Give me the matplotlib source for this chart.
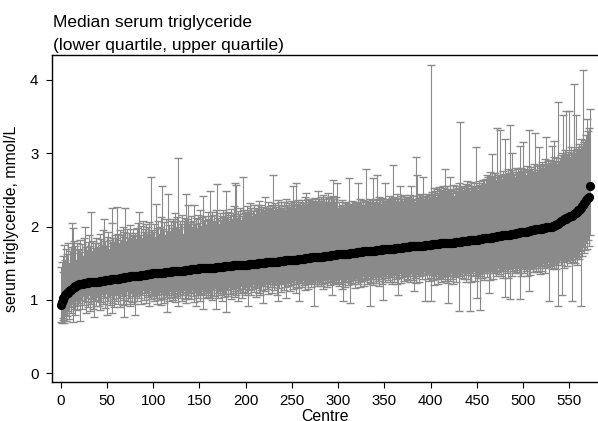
import numpy as np
import matplotlib
matplotlib.use("Agg")
import matplotlib.pyplot as plt

plt.rcParams['font.family'] = ['Liberation Sans', 'DejaVu Sans']

# centres sorted by median triglyceride: median level and how many centres share it
median_levels = [0.93, 0.97, 1.00, 1.02, 1.04, 1.06, 1.08, 1.09, 1.10, 1.12, 1.13, 1.14, 1.15, 1.16, 1.17, 1.18,
                 1.19, 1.20, 1.21, 1.22, 1.23, 1.24, 1.25, 1.26, 1.27, 1.28, 1.29, 1.30,
                 1.31, 1.32, 1.33, 1.34, 1.35, 1.36, 1.37, 1.38, 1.39, 1.40, 1.41,
                 1.42, 1.43, 1.44, 1.45, 1.46, 1.47, 1.48, 1.49, 1.50,
                 1.51, 1.52, 1.53, 1.54, 1.55, 1.56, 1.57, 1.58, 1.59, 1.60,
                 1.61, 1.62, 1.63, 1.64, 1.65, 1.66, 1.67, 1.68, 1.69, 1.70,
                 1.71, 1.72, 1.73, 1.74, 1.75, 1.76, 1.77, 1.78, 1.79, 1.80,
                 1.81, 1.82, 1.83, 1.84, 1.85, 1.86, 1.87, 1.88, 1.89, 1.90, 1.91,
                 1.92, 1.93, 1.94, 1.95, 1.96, 1.97, 1.98, 1.99, 2.00, 2.01, 2.02,
                 2.03, 2.04, 2.05, 2.06, 2.07, 2.08, 2.09, 2.10, 2.11,
                 2.12, 2.13, 2.14, 2.15, 2.16, 2.17, 2.18,
                 2.20, 2.21, 2.22, 2.23, 2.24, 2.26, 2.28, 2.30, 2.32, 2.34, 2.36,
                 2.37, 2.39, 2.41, 2.56]
median_counts = [1, 1, 1, 1, 1, 1, 1, 1, 1, 1, 1, 1, 1, 1, 1, 1,
                 2, 2, 2, 3, 5, 6, 6, 6, 6, 5, 5, 5,
                 6, 6, 6, 6, 6, 7, 7, 7, 7, 7, 7,
                 9, 9, 9, 9, 9, 9, 9, 9, 9,
                 7, 7, 7, 7, 7, 7, 7, 7, 7, 7,
                 7, 7, 7, 7, 7, 7, 7, 7, 7, 7,
                 8, 8, 8, 8, 8, 8, 8, 8, 8, 8,
                 5, 5, 5, 5, 5, 5, 5, 5, 5, 5, 5,
                 4, 4, 4, 4, 4, 4, 4, 4, 3, 3, 2,
                 1, 1, 1, 1, 1, 1, 1, 1, 2,
                 2, 2, 2, 1, 1, 1, 2,
                 1, 1, 1, 1, 1, 1, 1, 1, 1, 1, 1,
                 1, 1, 1, 1]

# lower quartile per centre (same order)
lower_q = [
    0.70, 0.68, 0.72, 0.75, 0.69, 0.80, 0.71, 0.78, 0.85, 0.74, 0.90, 0.82, 0.95, 0.70, 0.88, 0.92, 0.80, 0.98, 0.86, 0.93,
    0.96, 0.71, 1.00, 0.88, 1.05, 0.93, 0.98, 0.82, 1.02, 0.90, 0.97, 1.06, 0.85, 0.94, 1.01, 0.88, 0.76, 0.99, 0.92, 1.04,
    1.00, 0.92, 1.05, 0.86, 0.97, 1.08, 0.94, 1.02, 0.89, 1.10, 0.80, 0.99, 1.04, 0.93, 1.07, 0.96, 0.82, 1.01, 0.90, 1.06,
    0.98, 1.08, 0.95, 1.02, 0.90, 1.10, 1.05, 0.93, 0.76, 1.00, 1.07, 0.94, 1.12, 0.99, 1.03, 0.91, 1.09, 0.97, 1.05, 0.95,
    0.80, 1.05, 1.12, 0.98, 1.08, 1.02, 1.10, 0.95, 1.06, 1.14, 1.00, 1.09, 0.96, 1.11, 1.04, 0.92, 1.07, 1.13, 1.01, 1.08,
    1.05, 0.98, 1.10, 1.02, 0.94, 1.07, 1.00, 1.11, 1.03, 0.93, 1.08, 1.01, 0.96, 1.09, 1.04, 0.84, 1.06, 0.99, 1.12, 1.02,
    1.07, 1.00, 1.10, 1.04, 0.97, 1.12, 1.05, 0.91, 1.08, 1.02, 1.11, 0.99, 1.06, 1.13, 1.01, 1.09, 0.96, 1.07, 1.03, 1.10,
    1.09, 1.01, 1.13, 1.05, 0.97, 1.11, 0.92, 1.07, 1.14, 1.03, 1.10, 0.99, 1.08, 1.15, 0.88, 1.06, 1.12, 1.02, 1.09, 1.04,
    1.11, 1.03, 1.15, 1.07, 1.00, 1.13, 1.05, 1.16, 0.88, 1.09, 1.02, 1.14, 1.06, 1.12, 0.99, 1.10, 1.17, 1.04, 1.08, 0.83,
    1.13, 1.05, 1.17, 1.08, 1.01, 1.15, 1.10, 1.18, 1.04, 1.12, 1.07, 1.16, 0.99, 1.14, 1.09, 1.19, 1.03, 1.11, 1.15, 1.06,
    1.17, 1.09, 1.21, 0.92, 1.13, 1.19, 1.06, 1.15, 1.22, 1.11, 1.18, 1.04, 1.16, 1.20, 1.10, 1.23, 1.07, 1.14, 1.19, 0.96,
    1.19, 1.12, 1.23, 1.15, 1.08, 1.21, 1.17, 1.24, 1.10, 1.18, 1.22, 1.13, 1.20, 1.25, 1.06, 0.98, 1.16, 1.23, 1.11, 1.21,
    1.21, 1.14, 1.25, 1.17, 1.02, 1.23, 1.19, 1.26, 1.12, 1.20, 1.24, 1.15, 1.22, 1.27, 1.09, 1.18, 1.25, 1.16, 0.98, 1.23,
    1.23, 1.17, 1.27, 1.20, 1.13, 1.25, 1.21, 1.28, 1.15, 1.23, 1.26, 1.18, 1.24, 1.29, 0.92, 1.21, 1.27, 1.19, 1.25, 1.22,
    1.25, 1.19, 1.29, 1.22, 1.15, 1.27, 1.23, 1.30, 1.17, 1.25, 1.28, 1.20, 1.26, 1.07, 1.24, 1.29, 1.21, 1.27, 1.23, 1.30,
    1.25, 1.19, 1.29, 1.22, 1.15, 0.98, 1.24, 1.30, 1.17, 1.25, 1.28, 1.20, 1.26, 0.96, 1.23, 1.29, 1.21, 1.27, 1.16, 1.30,
    1.27, 1.21, 1.31, 1.24, 1.17, 1.29, 1.26, 1.32, 1.19, 1.27, 1.30, 1.22, 1.28, 1.33, 1.25, 0.92, 1.23, 1.29, 1.20, 1.31,
    1.29, 1.23, 1.33, 1.26, 1.19, 1.31, 1.28, 1.34, 1.21, 1.00, 1.32, 1.24, 1.30, 1.35, 1.27, 1.33, 1.25, 1.31, 1.22, 1.34,
    1.31, 1.25, 1.35, 1.28, 1.21, 1.07, 1.30, 1.36, 1.23, 1.31, 1.34, 1.26, 1.32, 1.37, 1.29, 1.35, 1.27, 1.33, 1.24, 1.36,
    1.33, 1.27, 1.12, 1.30, 1.23, 1.35, 1.32, 1.38, 1.25, 1.33, 1.36, 1.28, 1.34, 1.39, 0.98, 1.37, 1.29, 1.35, 1.26, 1.38,
    1.30, 0.99, 1.34, 1.27, 1.20, 1.32, 1.29, 1.35, 1.22, 1.30, 1.33, 1.25, 1.31, 1.36, 1.28, 1.34, 1.26, 1.32, 1.23, 0.96,
    1.32, 1.26, 1.36, 1.29, 1.22, 1.34, 1.31, 1.37, 1.24, 1.32, 1.35, 0.85, 1.33, 1.38, 1.30, 1.36, 1.28, 1.34, 1.25, 1.37,
    1.34, 1.28, 1.38, 0.85, 1.24, 1.36, 1.33, 1.39, 1.26, 1.34, 1.02, 1.30, 1.35, 0.86, 1.32, 1.38, 1.30, 1.36, 1.27, 1.39,
    1.37, 1.31, 1.41, 1.09, 1.27, 1.39, 1.36, 1.42, 1.29, 1.37, 1.40, 1.33, 1.38, 1.43, 1.35, 1.41, 1.33, 1.39, 1.30, 1.42,
    1.40, 1.04, 1.44, 1.37, 1.30, 1.42, 1.01, 1.45, 1.32, 1.40, 1.43, 1.36, 1.41, 1.46, 1.38, 1.44, 1.36, 1.01, 1.33, 1.45,
    1.42, 1.36, 1.46, 1.39, 1.32, 1.44, 1.12, 1.47, 1.34, 1.42, 1.45, 1.38, 1.43, 1.48, 1.40, 1.46, 1.38, 1.44, 1.35, 1.47,
    1.46, 1.40, 1.50, 1.43, 1.36, 1.48, 1.45, 1.51, 0.99, 1.46, 1.49, 1.42, 1.47, 1.52, 1.44, 1.50, 1.42, 1.48, 0.91, 1.51,
    1.54, 1.48, 1.07, 1.51, 1.44, 1.56, 1.53, 1.59, 1.46, 1.54, 1.57, 1.50, 1.55, 0.98, 1.52, 1.58, 1.50, 1.56, 1.47, 1.59,
    1.62, 1.56, 1.66, 0.91, 1.60, 1.72, 1.64, 1.68, 1.77, 1.70, 1.82, 1.74, 1.88,
]

# upper quartile per centre (same order)
upper_q = [
    1.45, 1.52, 1.60, 1.38, 1.75, 1.55, 1.70, 1.62, 1.78, 1.50, 1.66, 1.72, 2.05, 1.98, 1.80, 1.64, 1.74, 1.55, 1.78, 1.68,
    1.70, 1.82, 1.65, 1.76, 1.60, 1.85, 2.00, 1.72, 1.68, 1.79, 1.62, 1.88, 1.74, 2.20, 1.66, 1.80, 1.71, 1.77, 1.84, 1.69,
    1.78, 1.72, 1.90, 1.68, 1.83, 1.75, 1.95, 2.10, 1.80, 1.73, 1.86, 1.92, 1.70, 1.81, 1.77, 2.05, 2.26, 1.85, 1.79, 1.88,
    1.84, 2.27, 1.90, 1.78, 1.95, 1.82, 1.88, 2.00, 1.86, 1.93, 2.25, 1.80, 1.97, 1.85, 1.91, 2.02, 1.83, 1.89, 1.96, 1.87,
    1.91, 1.83, 1.98, 1.87, 2.05, 2.20, 1.89, 2.01, 1.85, 2.08, 1.92, 1.96, 2.03, 1.88, 1.99, 1.93, 2.06, 1.90, 2.68, 1.95,
    1.93, 2.03, 1.86, 2.31, 1.98, 2.08, 1.90, 2.00, 1.84, 2.13, 2.55, 1.96, 2.06, 1.88, 2.10, 1.94, 2.45, 2.02, 1.92, 2.08,
    1.98, 2.10, 1.93, 2.06, 2.18, 2.00, 2.13, 2.93, 1.96, 2.08, 2.03, 2.16, 1.90, 2.07, 2.12, 2.45, 1.99, 2.11, 2.30, 2.04,
    2.06, 2.14, 2.00, 2.08, 2.30, 2.03, 2.12, 1.98, 2.10, 2.16, 2.05, 2.23, 2.01, 2.13, 2.42, 2.07, 2.15, 2.02, 2.09, 2.20,
    2.10, 2.48, 2.03, 2.14, 2.20, 2.06, 2.16, 2.08, 2.23, 2.58, 2.12, 2.04, 2.18, 2.09, 2.15, 2.22, 2.07, 2.13, 2.19, 2.48,
    2.13, 2.20, 2.08, 2.16, 2.24, 2.10, 2.18, 2.28, 2.14, 2.60, 2.57, 2.12, 2.21, 2.17, 2.26, 2.09, 2.15, 2.67, 2.23, 2.19,
    2.20, 2.16, 2.28, 2.23, 2.18, 2.32, 2.25, 2.14, 2.21, 2.30, 2.17, 2.26, 2.22, 2.29, 2.35, 2.24, 2.20, 2.29, 2.23, 2.27,
    2.22, 2.41, 2.26, 2.20, 2.34, 2.24, 2.28, 2.21, 2.30, 2.25, 2.70, 2.23, 2.32, 2.27, 2.21, 2.36, 2.29, 2.24, 2.33, 2.26,
    2.26, 2.34, 2.28, 2.23, 2.37, 2.30, 2.25, 2.32, 2.27, 2.35, 2.29, 2.55, 2.33, 2.26, 2.59, 2.31, 2.28, 2.36, 2.30, 2.34,
    2.30, 2.36, 2.32, 2.28, 2.40, 2.46, 2.29, 2.37, 2.31, 2.36, 2.33, 2.30, 2.38, 2.35, 2.32, 2.39, 2.34, 2.31, 2.49, 2.37,
    2.33, 2.40, 2.35, 2.31, 2.43, 2.37, 2.32, 2.40, 2.34, 2.46, 2.39, 2.33, 2.41, 2.38, 2.64, 2.42, 2.37, 2.34, 2.41, 2.60,
    2.26, 2.33, 2.28, 2.24, 2.36, 2.30, 2.25, 2.33, 2.27, 2.32, 2.29, 2.26, 2.66, 2.31, 2.28, 2.35, 2.30, 2.27, 2.34, 2.32,
    2.29, 2.59, 2.31, 2.27, 2.38, 2.33, 2.28, 2.36, 2.30, 2.35, 2.79, 2.29, 2.34, 2.32, 2.37, 2.31, 2.28, 2.36, 2.66, 2.33,
    2.32, 2.38, 2.70, 2.30, 2.41, 2.36, 2.31, 2.39, 2.33, 2.37, 2.34, 2.60, 2.35, 2.32, 2.38, 2.42, 2.36, 2.33, 2.39, 2.84,
    2.35, 2.41, 2.37, 2.33, 2.44, 2.39, 2.34, 2.56, 2.42, 2.38, 2.35, 2.43, 2.38, 2.40, 2.34, 2.41, 2.37, 2.39, 2.43, 2.56,
    2.36, 2.42, 2.38, 2.34, 2.95, 2.70, 2.37, 2.43, 2.39, 2.45, 2.36, 2.41, 2.67, 2.38, 2.42, 2.40, 2.44, 2.37, 2.43, 2.41,
    2.45, 4.20, 2.47, 2.43, 2.53, 2.49, 2.41, 2.51, 2.46, 2.54, 2.44, 2.50, 2.48, 2.55, 2.47, 2.52, 2.78, 2.49, 2.56, 2.51,
    2.48, 2.67, 2.50, 2.46, 2.57, 2.42, 2.49, 2.55, 2.51, 2.47, 2.53, 2.59, 3.43, 2.52, 2.56, 2.50, 2.54, 2.48, 2.58, 2.62,
    2.51, 2.57, 2.53, 2.49, 2.61, 2.55, 2.52, 2.59, 2.54, 3.09, 2.56, 2.50, 2.62, 2.57, 2.53, 2.60, 2.55, 2.63, 2.63, 2.58,
    2.65, 2.71, 2.67, 2.63, 2.75, 2.69, 2.66, 2.99, 2.68, 2.73, 2.73, 2.64, 3.35, 2.71, 2.67, 3.32, 2.69, 2.65, 2.76, 2.72,
    2.69, 3.20, 2.71, 2.67, 2.79, 2.73, 3.38, 2.77, 3.00, 2.75, 2.72, 2.68, 2.80, 2.74, 2.71, 2.78, 2.73, 3.10, 2.80, 2.76,
    3.16, 2.79, 2.75, 2.71, 2.83, 2.77, 2.74, 3.32, 2.76, 2.81, 2.78, 2.73, 2.85, 3.28, 2.75, 2.82, 2.77, 3.08, 2.84, 2.80,
    2.82, 2.88, 2.85, 2.80, 2.92, 3.22, 2.84, 2.90, 2.86, 2.91, 2.87, 3.10, 2.89, 2.95, 3.17, 2.88, 2.93, 2.86, 3.70, 2.90,
    2.94, 2.98, 3.00, 3.52, 2.96, 3.05, 2.99, 3.57, 2.97, 3.02, 3.58, 2.95, 3.08, 3.00, 3.04, 3.95, 3.01, 3.52, 3.06, 3.03,
    3.08, 3.12, 3.05, 3.20, 3.10, 4.13, 3.15, 3.18, 3.25, 3.47, 3.30, 3.35, 3.60,
]

x_ticks = [0, 50, 100, 150, 200, 250, 300, 350, 400, 450, 500, 550]
y_ticks = [0, 1, 2, 3, 4]

median = np.repeat(median_levels, median_counts)
lower_q = np.array(lower_q)
upper_q = np.array(upper_q)
centre = np.arange(len(median))

W, H = 598, 421
fig = plt.figure(figsize=(W / 100, H / 100), dpi=100)
ax = fig.add_axes([52 / W, 39 / H, 546 / W, 327 / H])

# quartile ranges as capped spikes, medians as dots on top
ax.errorbar(centre, median, yerr=[median - lower_q, upper_q - median], fmt='none',
            ecolor='#8a8a8a', elinewidth=0.8, capsize=2.8, capthick=1.0, zorder=2)
ax.plot(centre, median, 'o', color='black', markersize=6.6, markeredgewidth=0, zorder=3)

ax.set_xlim(-9.4, 581.1)
ax.set_ylim(-0.12, 4.34)
ax.set_xticks(x_ticks)
ax.set_yticks(y_ticks)
ax.spines['right'].set_visible(False)
for s in ['left', 'bottom', 'top']:
    ax.spines[s].set_linewidth(1.0)
ax.tick_params(axis='both', direction='out', length=4.3, width=0.8, labelsize=10.8)
ax.tick_params(axis='x', pad=4.5)
ax.tick_params(axis='y', pad=5.5)

fig.text(53 / W, 1 - 27 / H, "Median serum triglyceride", fontsize=12.5, va='baseline', ha='left')
fig.text(53 / W, 1 - 50 / H, "(lower quartile, upper quartile)", fontsize=12.5, va='baseline', ha='left')
fig.text(12 / W, 1 - 219 / H, "serum triglyceride, mmol/L", fontsize=11.4, rotation=90,
         va='center', ha='center')
fig.text(325 / W, 1 - 409 / H, "Centre", fontsize=11.4, va='top', ha='center')

fig.savefig("out.png", dpi=100)
